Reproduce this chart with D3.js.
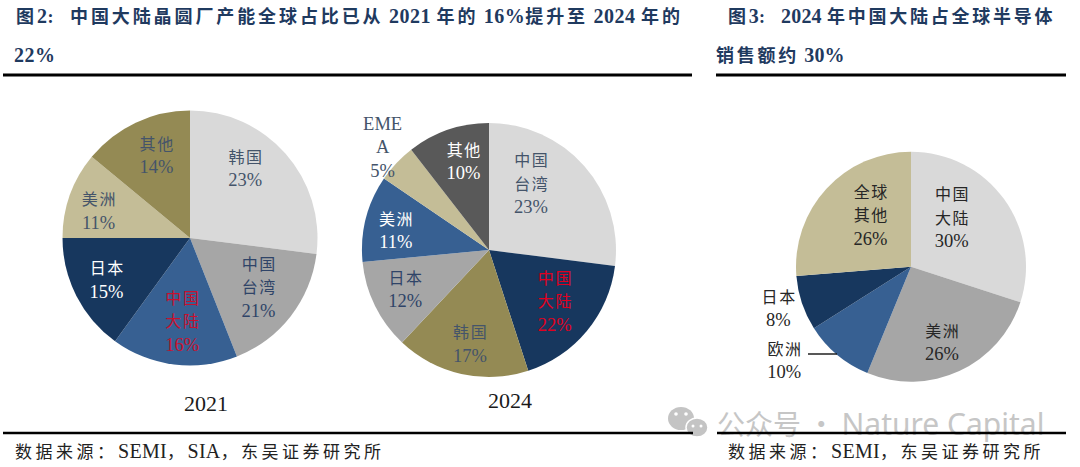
<!DOCTYPE html>
<html><head><meta charset="utf-8">
<script src="https://cdn.jsdelivr.net/npm/d3@7"></script>
<style>
html,body{margin:0;padding:0;background:#fff;overflow:hidden}
svg{display:block}
text{font-family:"Liberation Serif","Noto Sans CJK SC",serif}
</style></head><body><svg id="c" width="1080" height="467"></svg>
<script>
// ---- data ----
// printed labels
const names2021 = ["韩国","中国\n台湾","中国\n大陆","日本","美洲","其他"];
const printed2021 = [23,21,16,15,11,14];
// slice sizes as drawn (the reference's first two wedges differ from their printed numbers)
const drawn2021 = [27,17,16,15,11,14];

const names2024 = ["中国\n台湾","中国\n大陆","韩国","日本","美洲","EME\nA","其他"];
const printed2024 = [23,22,17,12,11,5,10];
const drawn2024 = [27,18,17,11.5,11,5,10.5];

const names3 = ["中国\n大陆","美洲","欧洲","日本","全球\n其他"];
const printed3 = [30,26,10,8,26];
const drawn3 = [30,26.2,9.8,7.7,26.3];

const years = ["2021","2024"];

// ---- styling / layout (not data) ----
const C = {light:"#D9D9D9",grey:"#A6A6A6",blue:"#376092",navy:"#17375E",tan:"#C4BD97",olive:"#948A54",dark:"#595959"};
const ink="#44546A", ink2="#2F4468", red="#C8102E", black="#262626";
const pies = [
 {cx:190,cy:238,r:127.5,names:names2021,printed:printed2021,drawn:drawn2021,
  fills:[C.light,C.grey,C.blue,C.navy,C.tan,C.olive],
  inks:[ink,ink2,red,"#fff",ink,ink],
  nudges:[[-4,-17],[6,1],[2,5],[-13,6],[-17,0],[0,-11]]},
 {cx:489,cy:250,r:127,names:names2024,printed:printed2024,drawn:drawn2024,
  fills:[C.light,C.navy,C.olive,C.grey,C.blue,C.tan,C.dark],
  inks:[ink,"#E00020",ink,ink2,"#fff",ink,"#fff"],
  nudges:[[-17,-14],[5,1],[-2,17],[-13,5],[-17,0],[-49,-49],[0,-14]]},
 {cx:911,cy:266.7,r:115,names:names3,printed:printed3,drawn:drawn3,
  fills:[C.light,C.grey,C.blue,C.navy,C.tan],
  inks:[black,black,black,black,black],
  nudges:[[-17,-7],[1,11],[-81,39],[-65,19],[12,-3]]}
];

const svg = d3.select("#c");
const pie = d3.pie().sort(null).value(d=>d);
const lineGap = 23.5;

pies.forEach(p=>{
  const g = svg.append("g").attr("transform",`translate(${p.cx},${p.cy})`);
  const arcs = pie(p.drawn);
  const arc = d3.arc().innerRadius(0).outerRadius(p.r);
  const lab = d3.arc().innerRadius(p.r*0.62).outerRadius(p.r*0.62);
  g.selectAll("path").data(arcs).join("path").attr("d",arc).attr("fill",(d,i)=>p.fills[i]);
  arcs.forEach((a,i)=>{
    const [x,y] = lab.centroid(a);
    const lines = p.names[i].split("\n").concat(p.printed[i]+"%");
    const tx = x+p.nudges[i][0], ty = y+p.nudges[i][1];
    const t = g.append("text").attr("text-anchor","middle").attr("fill",p.inks[i]);
    lines.forEach((s,k)=>{
      const isCjk = /[\u4e00-\u9fff]/.test(s);
      t.append("tspan").attr("x",tx+(isCjk?0.8:0))
       .attr("y",ty+(k-(lines.length-1)/2)*lineGap+6)
       .attr("letter-spacing",isCjk?1.6:0)
       .attr("font-size",isCjk?16:18.5)
       .text(s);
    });
  });
});

// leader line for 欧洲
svg.append("line").attr("x1",808).attr("x2",837).attr("y1",354).attr("y2",354).attr("stroke","#111").attr("stroke-width",1.4);

// year captions
svg.selectAll("text.yr").data(years).join("text").attr("class","yr")
  .attr("x",(d,i)=>[206,510][i]).attr("y",(d,i)=>[411,408][i])
  .attr("text-anchor","middle").attr("font-size",22).attr("fill","#1a1a1a").text(d=>d);

// mixed text with separate tracking and size for CJK and Latin runs
function mixed(x,y,str,opt){
  const t = svg.append("text").attr("x",x).attr("y",y)
    .attr("font-weight",opt.weight||400).attr("fill",opt.fill).attr("xml:space","preserve");
  str.split(/([\u4e00-\u9fff\uFF0C\uFF1A:]+)/).filter(s=>s).forEach(s=>{
    const cjk=/[\u4e00-\u9fff\uFF0C\uFF1A:]/.test(s);
    t.append("tspan").attr("letter-spacing",cjk?opt.cjk:opt.lat)
     .attr("font-size",cjk?opt.size:opt.latSize).text(s);
  });
  return t;
}
const navyText="#1F3A5F";
const head={size:18,latSize:20,weight:700,fill:navyText,cjk:2.9,lat:0.5};
const headR={size:18,latSize:20,weight:700,fill:navyText,cjk:2.75,lat:0.2};
mixed(16,23,"图2:",head);
mixed(70,23,"中国大陆晶圆厂产能全球占比已从 2021 年的 16%提升至 2024 年的",head);
mixed(14,62,"22%",head);
mixed(728,23,"图3:",headR);
mixed(781,23,"2024 年中国大陆占全球半导体",headR);
mixed(716,62,"销售额约 30%",headR);

const src={size:17,latSize:20,fill:"#222",cjk:3.5,lat:0.3};
mixed(15,458,"数据来源\uFF1A",src);
mixed(118,458,"SEMI\uFF0CSIA\uFF0C东吴证券研究所",src);
mixed(728,458,"数据来源\uFF1A",src);
mixed(831,458,"SEMI\uFF0C东吴证券研究所",src);

// watermark (sits beneath the rules)
const wm=svg.append("g");
wm.append("ellipse").attr("cx",681).attr("cy",418.5).attr("rx",13).attr("ry",11.5).attr("fill","#c4c4c4");
wm.append("ellipse").attr("cx",697).attr("cy",427.5).attr("rx",11).attr("ry",9.5).attr("fill","#c4c4c4").attr("stroke","#fff").attr("stroke-width",1.5);
[[676,414,1.8],[686,414,1.8],[693,426,1.5],[701,426,1.5]].forEach(e=>
  wm.append("circle").attr("cx",e[0]).attr("cy",e[1]).attr("r",e[2]).attr("fill","#fff"));
const wt=svg.append("text").attr("x",717).attr("y",435)
  .attr("style",'font-family:"Noto Sans CJK SC","Noto Sans",sans-serif')
  .attr("fill","#c6c6c6").attr("xml:space","preserve");
wt.append("tspan").attr("font-size",28).text("公众号 · ");
wt.append("tspan").attr("font-size",30).attr("style",'font-family:"Noto Sans",sans-serif').text("Nature Capital");

// rules
[[3,692,75],[716,1066,75],[3,693,433],[717,1066,433]].forEach(r=>{
  svg.append("line").attr("x1",r[0]).attr("x2",r[1]).attr("y1",r[2]).attr("y2",r[2])
    .attr("stroke","#000").attr("stroke-width",r[2]<100?3:2.4);
});
</script></body></html>
